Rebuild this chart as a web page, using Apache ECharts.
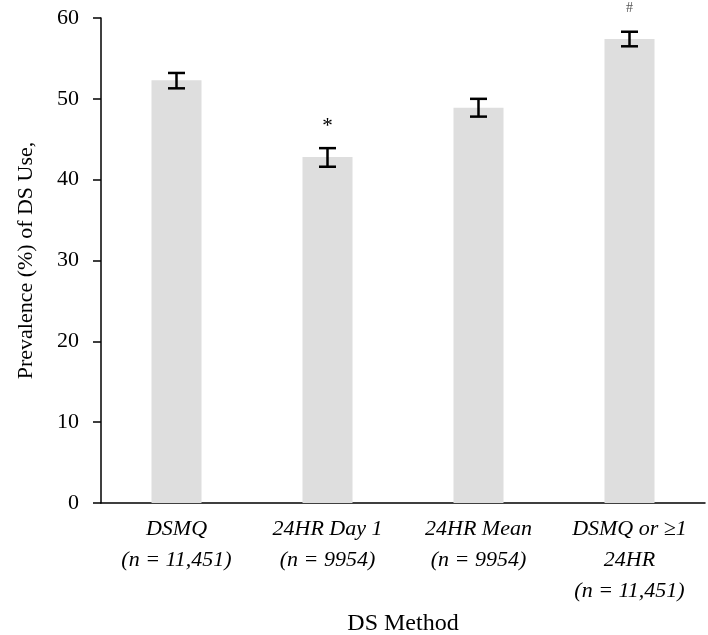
<!DOCTYPE html>
<html><head><meta charset="utf-8">
<script src="https://cdn.jsdelivr.net/npm/echarts@6/dist/echarts.min.js"></script>
<style>html,body{margin:0;padding:0;background:#fff}#c{width:708px;height:635px}</style>
</head><body><div id="c"></div>
<script>
const categories = ['DSMQ\n(n = 11,451)', '24HR Day 1\n(n = 9954)', '24HR Mean\n(n = 9954)', 'DSMQ or \u22651\n24HR\n(n = 11,451)'];
const prevalence = [52.3, 42.8, 48.9, 57.4];
const errLow = [51.3, 41.6, 47.8, 56.5];
const errHigh = [53.2, 43.9, 50.0, 58.3];
const marks = ['', '*', '', '#'];
const yTicks = {min: 0, max: 60, interval: 10};

const font = 'Liberation Serif';
const chart = echarts.init(document.getElementById('c'));
chart.setOption({
  animation: false,
  grid: {left: 101, right: 3, top: 18, bottom: 132, containLabel: false, outerBoundsMode: 'none'},
  xAxis: {
    type: 'category', data: categories,
    axisLine: {lineStyle: {color: '#000', width: 1.5}},
    axisTick: {show: false},
    axisLabel: {interval: 0, fontFamily: font, fontStyle: 'italic', fontSize: 22, color: '#000', lineHeight: 31, margin: 11},
    name: 'DS Method', nameLocation: 'middle', nameGap: 103,
    nameTextStyle: {fontFamily: font, fontSize: 24, color: '#000'}
  },
  yAxis: {
    type: 'value', min: yTicks.min, max: yTicks.max, interval: yTicks.interval,
    axisLine: {show: true, lineStyle: {color: '#000', width: 1.5}},
    axisTick: {show: true, length: 8, lineStyle: {color: '#000', width: 1.5}},
    splitLine: {show: false},
    axisLabel: {fontFamily: font, fontSize: 22, color: '#000', margin: 22},
    name: 'Prevalence (%) of DS Use,', nameLocation: 'middle', nameGap: 64, nameRotate: 90,
    nameTextStyle: {fontFamily: font, fontSize: 22, color: '#000'}
  },
  series: [
    {type: 'bar', data: prevalence, barWidth: 50, itemStyle: {color: '#dedede'}},
    {
      type: 'custom', clip: false, z: 10,
      data: categories.map((c, i) => [i, errLow[i], errHigh[i], marks[i]]),
      renderItem: function (params, api) {
        const i = api.value(0);
        const lo = api.coord([i, api.value(1)]);
        const hi = api.coord([i, api.value(2)]);
        const hw = 8.5;
        const st = {stroke: '#000', lineWidth: 2.5};
        const children = [
          {type: 'line', shape: {x1: lo[0], y1: lo[1], x2: hi[0], y2: hi[1]}, style: st},
          {type: 'line', shape: {x1: lo[0] - hw, y1: lo[1], x2: lo[0] + hw, y2: lo[1]}, style: st},
          {type: 'line', shape: {x1: hi[0] - hw, y1: hi[1], x2: hi[0] + hw, y2: hi[1]}, style: st}
        ];
        const m = marks[i];
        if (m) {
          children.push({type: 'text', style: {
            text: m, x: hi[0], y: hi[1] - (m === '#' ? 23 : 22),
            textAlign: 'center', textVerticalAlign: 'middle',
            fontFamily: font, fontSize: m === '#' ? 14 : 21,
            fill: m === '#' ? '#555' : '#000'
          }});
        }
        return {type: 'group', children: children};
      }
    }
  ]
});
</script></body></html>
